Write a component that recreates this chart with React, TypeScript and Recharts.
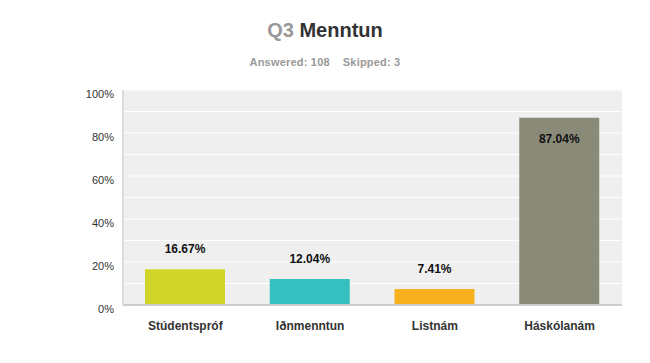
import { BarChart, Bar, XAxis, YAxis, CartesianGrid, Cell, LabelList } from "recharts";

const categories = ["Stúdentspróf", "Iðnmenntun", "Listnám", "Háskólanám"];
const percents = [16.67, 12.04, 7.41, 87.04];
const colors = ["#d1d52a", "#35bfbf", "#f7b11f", "#8a8a78"];
const yTicks = [0, 10, 20, 30, 40, 50, 60, 70, 80, 90, 100];

const data = categories.map((name, i) => ({ name, value: percents[i] }));

const FONT = "'Liberation Sans', Arial, sans-serif";

function ValueLabel(props: any) {
  const { x, y, width, value } = props;
  const inside = value > 50;
  const ly = inside ? y + 21 : y - 20;
  return (
    <text
      x={x + width / 2}
      y={ly}
      textAnchor="middle"
      dominantBaseline="central"
      fontSize={12}
      fontWeight="bold"
      fill="#111"
      fontFamily={FONT}
    >
      {value.toFixed(2)}%
    </text>
  );
}

function YTick(props: any) {
  const { x, y, payload } = props;
  if (payload.value % 20 !== 0) return null;
  return (
    <text x={x} y={y + 4} textAnchor="end" dominantBaseline="central" fontSize={11} fill="#333" fontFamily={FONT}>
      {payload.value}%
    </text>
  );
}

export default function App() {
  return (
    <div
      style={{
        position: "absolute",
        left: 0,
        top: 0,
        width: 650,
        height: 363,
        background: "#fff",
        fontFamily: FONT,
      }}
    >
      <div
        style={{
          position: "absolute",
          top: 19,
          width: 650,
          textAlign: "center",
          fontSize: 20,
          fontWeight: "bold",
          color: "#333",
        }}
      >
        <span style={{ color: "#999" }}>Q3</span> Menntun
      </div>
      <div
        style={{
          position: "absolute",
          top: 56,
          width: 650,
          textAlign: "center",
          fontSize: 11,
          fontWeight: "bold",
          color: "#999",
          letterSpacing: 0.2,
        }}
      >
        Answered: 108&nbsp;&nbsp;&nbsp;&nbsp;Skipped: 3
      </div>
      <BarChart
        width={650}
        height={363}
        data={data}
        margin={{ top: 90, right: 28, bottom: 28, left: 73 }}
        style={{ position: "absolute", left: 0, top: 0 }}
      >
        <CartesianGrid vertical={false} stroke="#ffffff" fill="#efefef" />
        <XAxis
          dataKey="name"
          height={30}
          tickLine={false}
          axisLine={{ stroke: "#cccccc", strokeWidth: 2 }}
          tick={{ fontSize: 12, fontWeight: "bold", fill: "#333", fontFamily: FONT }}
          tickMargin={10}
        />
        <YAxis
          width={50}
          domain={[0, 100]}
          ticks={yTicks}
          interval={0}
          tickLine={false}
          axisLine={{ stroke: "#dddddd", strokeWidth: 2 }}
          tick={<YTick />}
          tickMargin={3}
        />
        <Bar dataKey="value" barSize={80} isAnimationActive={false}>
          {data.map((d, i) => (
            <Cell key={d.name} fill={colors[i]} />
          ))}
          <LabelList dataKey="value" content={ValueLabel} />
        </Bar>
      </BarChart>
    </div>
  );
}
